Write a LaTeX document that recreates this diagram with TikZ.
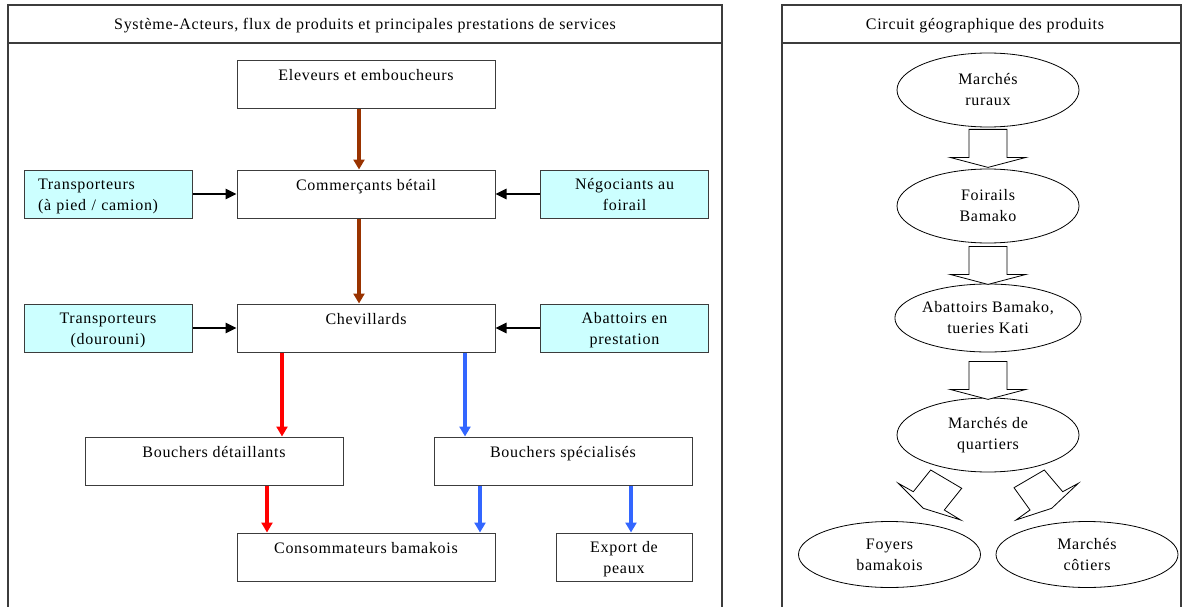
\documentclass[tikz,border=0pt]{standalone}
\usepackage{fontspec}
\setmainfont{Liberation Serif}[LetterSpace=4.5]
\usetikzlibrary{arrows.meta,shapes.geometric}
\definecolor{cyanpale}{RGB}{204,255,255}
\definecolor{brun}{RGB}{153,51,0}
\definecolor{rougeflux}{RGB}{255,0,0}
\definecolor{bleuflux}{RGB}{51,102,255}
\definecolor{trait}{RGB}{60,60,60}
\newcommand{\texte}{\fontsize{16}{21}\selectfont}
% fleche creuse verticale sous un lieu
\newcommand{\flechebloc}[2]{\draw[bloc] ([yshift=-#2pt]#1.south) ++(-19,0) -- ++(0,28) -- ++(-19,0) -- ++(38,10) -- ++(38,-10) -- ++(-19,0) -- ++(0,-28) -- cycle;}
\tikzset{
  cadre/.style={draw=trait, line width=1.2pt},
  titre/.style={font=\texte, inner sep=0pt},
  acteur/.style={draw=trait, line width=1pt, minimum width=258pt, minimum height=48pt, inner sep=0pt, align=center, font=\texte},
  service/.style={acteur, fill=cyanpale, minimum width=168pt},
  uneligne/.style={text height=11pt, text depth=19pt},
  deuxlignes/.style={text height=36pt, text depth=3.5pt},
  lieu/.style={ellipse, draw=black, line width=0.8pt, minimum width=182pt, minimum height=74pt, inner sep=0pt, align=center, font=\texte},
  bloc/.style={draw=black, line width=0.8pt, fill=white},
  flux/.style={line width=3.5pt, -{Triangle[length=10pt,width=11pt]}},
  fluxbrun/.style={flux, draw=brun, fill=brun},
  fluxrouge/.style={flux, draw=rougeflux, fill=rougeflux},
  fluxbleu/.style={flux, draw=bleuflux, fill=bleuflux},
  prestation/.style={line width=2.5pt, -{Triangle[length=11pt,width=10pt]}}
}
\begin{document}
\begin{tikzpicture}[x=1pt,y=-1pt]
\useasboundingbox (0,0) rectangle (1188,607);
%panneaux
\draw[cadre] (8,607) -- (8,5) -- (722,5) -- (722,607);
\draw[cadre] (8,43) -- (722,43);
\draw[cadre] (782,607) -- (782,5) -- (1181,5) -- (1181,607);
\draw[cadre] (782,43) -- (1181,43);
\node[titre] (titreSysteme) at (365,25.5) {Système-Acteurs, flux de produits et principales prestations de services};
\node[titre] (titreCircuit) at (985,25.5) {Circuit géographique des produits};
%acteurs
\node[acteur,uneligne] (eleveurs) at (366,85) {Eleveurs et emboucheurs};
\node[service,text height=11pt,text depth=21pt,text width=140pt,align=left] (transpPied) at (108,194) {Transporteurs\\(à pied / camion)};
\node[acteur,uneligne] (commercants) at (366,194) {Commerçants bétail};
\node[service,deuxlignes] (negociants) at (624.5,194) {Négociants au\\foirail};
\node[service,deuxlignes] (transpDourouni) at (108,328) {Transporteurs\\(dourouni)};
\node[acteur,uneligne] (chevillards) at (366,328) {Chevillards};
\node[service,deuxlignes] (abattoirsPrest) at (624.5,328) {Abattoirs en\\prestation};
\node[acteur,uneligne] (bouchersDet) at (214,461) {Bouchers détaillants};
\node[acteur,uneligne] (bouchersSpec) at (563,461) {Bouchers spécialisés};
\node[acteur,uneligne] (consommateurs) at (366,557) {Consommateurs bamakois};
\node[acteur,deuxlignes,minimum width=136pt] (exportPeaux) at (624,557) {Export de\\peaux};
%flux
\draw[fluxbrun] ([xshift=-7pt]eleveurs.south) -- ([xshift=-7pt]commercants.north);
\draw[fluxbrun] ([xshift=-7pt]commercants.south) -- ([xshift=-7pt]chevillards.north);
\draw[prestation] (transpPied.east) -- (commercants.west);
\draw[prestation] (negociants.west) -- (commercants.east);
\draw[prestation] (transpDourouni.east) -- (chevillards.west);
\draw[prestation] (abattoirsPrest.west) -- (chevillards.east);
\draw[fluxrouge] ([xshift=-84pt]chevillards.south) -- ([xshift=-84pt]chevillards.south |- bouchersDet.north);
\draw[fluxbleu] ([xshift=99pt]chevillards.south) -- ([xshift=99pt]chevillards.south |- bouchersSpec.north);
\draw[fluxrouge] ([xshift=53pt]bouchersDet.south) -- ([xshift=53pt]bouchersDet.south |- consommateurs.north);
\draw[fluxbleu] ([xshift=-83pt]bouchersSpec.south) -- ([xshift=-83pt]bouchersSpec.south |- consommateurs.north);
\draw[fluxbleu] ([xshift=68pt]bouchersSpec.south) -- ([xshift=68pt]bouchersSpec.south |- exportPeaux.north);
%circuit
\node[lieu] (marchesRuraux) at (988,90) {Marchés\\ruraux};
\node[lieu] (foirails) at (988,206) {Foirails\\Bamako};
\node[lieu,minimum height=68pt] (abattoirsBko) at (988,318) {Abattoirs Bamako,\\tueries Kati};
\node[lieu] (marchesQuartiers) at (988,435) {Marchés de\\quartiers};
\node[lieu,minimum height=66pt] (foyers) at (889.5,554.5) {Foyers\\bamakois};
\node[lieu,minimum height=66pt] (marchesCotiers) at (1087,554.5) {Marchés\\côtiers};
\flechebloc{marchesRuraux}{2}
\flechebloc{foirails}{3}
\flechebloc{abattoirsBko}{9}
\draw[bloc] (930.7,470) -- (961.7,488.3) -- (944.3,510) -- (960.7,520) -- (923.3,508.3) -- (898.3,483.3) -- (913.3,491.7) -- cycle;
\draw[bloc] (1014,487.7) -- (1044.3,470) -- (1062.7,491.7) -- (1078.3,483.3) -- (1051.7,508.3) -- (1016,520) -- (1030,510) -- cycle;
\end{tikzpicture}
\end{document}
